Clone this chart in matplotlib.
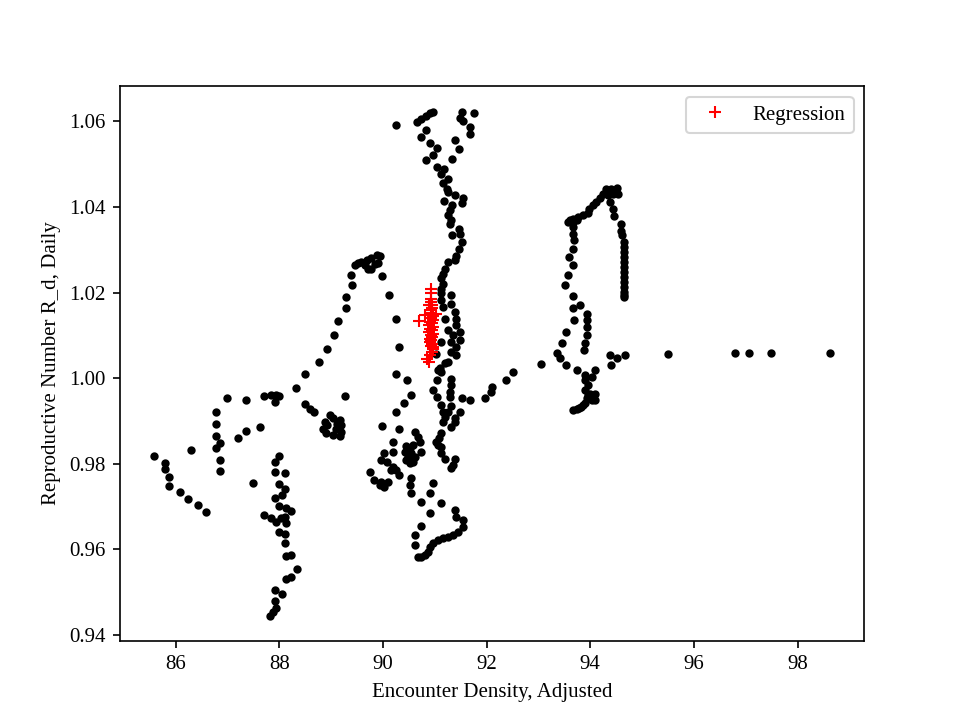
import matplotlib
matplotlib.use("Agg")
import matplotlib.pyplot as plt

plt.rcParams['font.family'] = ['Liberation Serif', 'DejaVu Serif']

# Observed points: (encounter density, daily reproductive number)
left_x = [88.33, 86.99, 87.35, 87.70, 87.85, 87.94, 87.99, 87.91, 88.49, 88.59, 88.68,
          86.78, 86.78, 86.78, 86.86, 86.78, 86.29, 87.20, 87.36, 87.63,
          85.58, 85.79, 85.79, 85.88, 85.87, 86.08, 86.23, 86.43, 86.58,
          86.86, 86.86, 87.49,
          87.99, 87.91, 87.91, 88.12, 87.99, 88.12, 88.05, 87.91, 87.99, 88.14, 88.22,
          87.70, 87.85, 87.94, 88.04, 88.12, 88.14, 87.99, 88.12, 88.12, 88.14, 88.22,
          88.35, 88.14, 88.22, 87.91, 88.05, 87.91, 87.93, 87.88, 87.83]
left_y = [0.9978, 0.9953, 0.9950, 0.9958, 0.9960, 0.9960, 0.9959, 0.9945, 0.9939, 0.9929, 0.9921,
          0.9920, 0.9892, 0.9864, 0.9849, 0.9836, 0.9831, 0.9861, 0.9876, 0.9885,
          0.9818, 0.9802, 0.9787, 0.9768, 0.9749, 0.9733, 0.9717, 0.9703, 0.9688,
          0.9808, 0.9783, 0.9754,
          0.9818, 0.9804, 0.9780, 0.9778, 0.9752, 0.9741, 0.9728, 0.9721, 0.9701, 0.9696, 0.9690,
          0.9680, 0.9674, 0.9664, 0.9672, 0.9676, 0.9662, 0.9641, 0.9636, 0.9614, 0.9585, 0.9587,
          0.9555, 0.9530, 0.9536, 0.9505, 0.9496, 0.9480, 0.9462, 0.9453, 0.9445]

arch_x = [89.46, 89.52, 89.58, 89.65, 89.71, 89.78, 89.84, 89.89, 89.91, 89.78, 89.69, 89.94,
          89.39, 89.40, 89.98, 89.28, 89.28, 90.11, 89.13, 90.25, 89.05, 88.92, 90.31, 88.77,
          88.49, 90.25, 89.27,
          88.97, 89.04, 89.17, 89.20, 89.10, 89.20, 89.17, 89.04, 88.91, 88.84, 88.88, 88.93, 89.11,
          90.25, 89.98, 90.31]
arch_y = [1.0264, 1.0268, 1.0271, 1.0264, 1.0256, 1.0254, 1.0266, 1.0287, 1.0268, 1.0280, 1.0275, 1.0285,
          1.0240, 1.0217, 1.0238, 1.0190, 1.0163, 1.0194, 1.0133, 1.0138, 1.0100, 1.0069, 1.0073, 1.0037,
          1.0009, 1.0009, 0.9958,
          0.9914, 0.9906, 0.9902, 0.9890, 0.9882, 0.9875, 0.9864, 0.9867, 0.9871, 0.9882, 0.9898, 0.9890, 0.9892,
          0.9921, 0.9889, 0.9880]

top_x = [90.25, 90.66, 90.74, 90.83, 90.90, 90.97, 91.52, 91.48, 91.55, 91.76, 91.68, 91.68,
         90.84, 90.74, 90.90, 91.04, 90.97, 90.83, 91.39, 91.47, 91.33,
         91.04, 91.17, 91.13, 91.26, 91.16, 91.23, 91.26, 91.39, 91.55, 91.52, 91.18,
         91.34, 91.29, 91.26, 91.32, 91.29, 91.47, 91.48, 91.33, 91.52, 91.47, 91.41,
         91.39, 91.26, 91.19, 91.16, 91.13, 91.15, 91.13]
top_y = [1.0591, 1.0598, 1.0606, 1.0612, 1.0620, 1.0623, 1.0622, 1.0608, 1.0602, 1.0620, 1.0587, 1.0571,
         1.0579, 1.0563, 1.0550, 1.0538, 1.0522, 1.0509, 1.0556, 1.0535, 1.0513,
         1.0493, 1.0490, 1.0478, 1.0466, 1.0455, 1.0443, 1.0435, 1.0429, 1.0420, 1.0410, 1.0413,
         1.0404, 1.0392, 1.0381, 1.0369, 1.0361, 1.0349, 1.0338, 1.0334, 1.0318, 1.0303, 1.0285,
         1.0275, 1.0271, 1.0256, 1.0244, 1.0233, 1.0221, 1.0209]

mid_x = [91.13, 91.32, 91.32, 91.16, 91.13, 91.39, 91.41, 91.19, 91.41, 91.26, 91.48, 91.35,
         91.48, 91.32, 91.41, 91.32, 91.41, 91.13, 91.03, 91.26, 91.19, 91.10, 91.32, 91.32,
         91.29, 90.47, 91.06, 91.13, 91.04, 90.97, 91.04, 90.55, 90.40, 91.29, 91.52, 91.68,
         91.97, 92.10, 92.09, 92.38, 92.51,
         91.13, 91.32, 91.16, 91.26, 91.48, 91.39, 91.19, 91.39, 91.32, 91.16,
         90.61, 90.68, 90.58, 90.45, 90.19, 91.13, 91.08, 91.06, 91.13, 91.03,
         91.13, 91.19, 91.39, 91.35, 91.32]
mid_y = [1.0198, 1.0194, 1.0174, 1.0166, 1.0182, 1.0155, 1.0139, 1.0139, 1.0124, 1.0112, 1.0108, 1.0100,
         1.0089, 1.0085, 1.0073, 1.0061, 1.0054, 1.0085, 1.0056, 1.0038, 1.0036, 1.0023, 0.9999, 0.9984,
         0.9968, 0.9995, 1.0019, 1.0015, 0.9995, 0.9973, 0.9956, 0.9960, 0.9941, 0.9956, 0.9953, 0.9949,
         0.9953, 0.9979, 0.9968, 0.9995, 1.0015,
         0.9937, 0.9935, 0.9921, 0.9921, 0.9921, 0.9908, 0.9910, 0.9898, 0.9886, 0.9898,
         0.9875, 0.9863, 0.9843, 0.9841, 0.9850, 0.9871, 0.9859, 0.9843, 0.9840, 0.9851,
         0.9824, 0.9812, 0.9812, 0.9797, 0.9789]

low_x = [90.71, 90.74, 90.52, 90.42, 90.55, 90.48, 90.61, 90.45, 90.58, 90.52,
         90.19, 90.03, 89.97, 90.07, 90.19, 90.16, 90.26, 90.32, 89.75, 89.82,
         89.97, 90.03, 89.94, 90.10, 90.55, 90.52, 90.97, 90.90, 90.55, 90.74, 91.12,
         90.90, 90.74, 90.61, 90.61,
         91.39, 91.42, 91.55, 91.55, 91.45, 91.35, 91.26, 91.16, 91.06, 90.97, 90.90,
         90.87, 90.81, 90.74, 90.68]
low_y = [0.9851, 0.9828, 0.9836, 0.9828, 0.9824, 0.9816, 0.9816, 0.9808, 0.9804, 0.9801,
         0.9828, 0.9824, 0.9808, 0.9804, 0.9793, 0.9785, 0.9785, 0.9773, 0.9781, 0.9762,
         0.9758, 0.9746, 0.9750, 0.9758, 0.9766, 0.9750, 0.9754, 0.9731, 0.9731, 0.9711, 0.9709,
         0.9684, 0.9654, 0.9633, 0.9610,
         0.9692, 0.9676, 0.9668, 0.9653, 0.9641, 0.9633, 0.9629, 0.9626, 0.9622, 0.9614, 0.9606,
         0.9594, 0.9587, 0.9583, 0.9581]

right_x = [94.31, 94.41, 94.51, 94.54, 94.44, 94.35, 94.25, 94.19, 94.12,
           94.06, 93.98, 93.96, 93.86, 93.77, 93.67, 93.61, 93.57, 93.67, 93.74,
           94.38, 94.44, 94.46,
           94.60, 94.60, 94.62, 94.65, 94.65, 94.65, 94.65, 94.65, 94.65, 94.65, 94.65,
           94.65, 94.65, 94.65, 94.65, 94.65,
           93.67, 93.67, 93.68, 93.67, 93.59, 93.67, 93.57, 93.51, 93.67, 93.80, 93.67,
           93.68, 93.54, 93.45, 93.36, 93.41, 93.54, 93.06,
           93.93, 93.94, 93.94, 93.93, 93.90, 93.88,
           94.38, 94.51, 94.67, 94.41,
           93.74, 93.90, 94.09, 94.03,
           93.90, 93.96, 93.90, 93.99, 93.93, 94.03, 93.90, 93.83, 93.74, 93.67, 94.09, 94.09,
           93.95, 93.86, 93.78,
           95.50, 96.79, 97.07, 97.49, 98.63]
right_y = [1.0443, 1.0443, 1.0445, 1.0431, 1.0430, 1.0427, 1.0431, 1.0420, 1.0412,
           1.0404, 1.0396, 1.0386, 1.0381, 1.0377, 1.0373, 1.0369, 1.0365, 1.0365, 1.0369,
           1.0412, 1.0396, 1.0378,
           1.0361, 1.0345, 1.0334, 1.0318, 1.0306, 1.0295, 1.0283, 1.0271, 1.0260, 1.0248, 1.0236,
           1.0225, 1.0213, 1.0201, 1.0190, 1.0195,
           1.0353, 1.0338, 1.0322, 1.0303, 1.0283, 1.0264, 1.0240, 1.0217, 1.0191, 1.0170, 1.0163,
           1.0137, 1.0108, 1.0081, 1.0059, 1.0046, 1.0030, 1.0033,
           1.0151, 1.0135, 1.0120, 1.0100, 1.0081, 1.0065,
           1.0054, 1.0046, 1.0054, 1.0030,
           1.0019, 1.0007, 1.0019, 1.0003,
           0.9995, 0.9984, 0.9972, 0.9964, 0.9953, 0.9949, 0.9941, 0.9933, 0.9929, 0.9925, 0.9964, 0.9949,
           0.9960, 0.9937, 0.9930,
           1.0056, 1.0058, 1.0058, 1.0058, 1.0058]

# Regression points
reg_x = [90.93, 90.93, 90.92, 90.93, 90.94, 90.92, 90.93, 90.81, 91.02, 90.70, 90.92, 90.96,
         90.90, 90.95, 90.88, 90.97, 90.91, 90.94, 90.89, 90.96, 90.92, 90.95, 90.90, 90.93,
         90.91, 90.94, 90.92, 90.96, 90.97, 90.94, 90.91, 90.89, 90.95, 90.88, 90.97, 90.86]
reg_y = [1.0209, 1.0198, 1.0186, 1.0178, 1.0170, 1.0160, 1.0152, 1.0148, 1.0150, 1.0134, 1.0140, 1.0145,
         1.0132, 1.0128, 1.0124, 1.0120, 1.0116, 1.0112, 1.0108, 1.0104, 1.0100, 1.0096, 1.0092, 1.0088,
         1.0084, 1.0080, 1.0076, 1.0072, 1.0069, 1.0061, 1.0054, 1.0038, 1.0165, 1.0172, 1.0136, 1.0044]

fig, ax = plt.subplots(figsize=(6.4, 4.8), dpi=150)
for xs, ys in [(left_x, left_y), (arch_x, arch_y), (top_x, top_y), (mid_x, mid_y),
               (low_x, low_y), (right_x, right_y)]:
    ax.plot(xs, ys, 'k.', linestyle='none')
ax.plot(reg_x, reg_y, 'r+', linestyle='none', label='Regression')

ax.set_xlabel('Encounter Density, Adjusted')
ax.set_ylabel('Reproductive Number R_d, Daily')
ax.set_xticks([86, 88, 90, 92, 94, 96, 98])
ax.set_yticks([0.94, 0.96, 0.98, 1.00, 1.02, 1.04, 1.06])
ax.legend(loc='upper right')
fig.savefig('out.png', dpi=150)
